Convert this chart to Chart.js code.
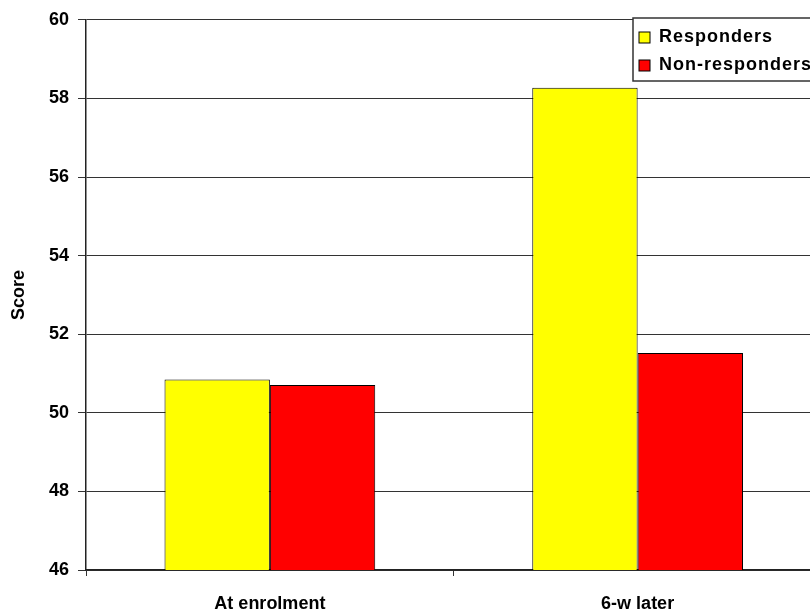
<!DOCTYPE html>
<html lang="en">
  <head>
    <meta charset="UTF-8" />
    <title>Score: responders vs non-responders</title>
    <script src="https://cdn.jsdelivr.net/npm/chart.js"></script>
    <style>
      html, body { margin: 0; padding: 0; background: #fff; overflow: hidden; }
      .chart-box { position: relative; width: 830px; height: 615px; }
    </style>
  </head>

  <body>
    <div class="chart-box">
      <canvas id="scoreChart"></canvas>
    </div>

    <script>
      // Data
      const categories = ["At enrolment", "6-w later"];
      const seriesNames = ["Responders", "Non-responders"];
      const responders = [50.85, 58.27];
      const nonResponders = [50.71, 51.52];
      const yMin = 46;
      const yMax = 60;
      const yStep = 2;

      const tickFont = { family: "Arial, 'Liberation Sans', sans-serif", size: 18, weight: "bold" };

      // legend drawn as a framed box inside the plot, like the original
      const boxLegend = {
        id: "boxLegend",
        afterDraw(chart) {
          const ctx = chart.ctx;
          const x = 633, y = 18, h = 63;
          ctx.save();
          ctx.fillStyle = "#fff";
          ctx.fillRect(x, y, chart.width - x + 5, h);
          ctx.strokeStyle = "#333";
          ctx.lineWidth = 1.5;
          ctx.strokeRect(x, y, chart.width - x + 5, h);
          ctx.font = "bold 18px Arial, 'Liberation Sans', sans-serif";
          ctx.letterSpacing = "1px";
          ctx.textBaseline = "middle";
          chart.data.datasets.forEach((ds, i) => {
            const cy = 37.5 + i * 28;
            ctx.fillStyle = ds.backgroundColor;
            ctx.fillRect(639, cy - 5.5, 11, 11);
            ctx.strokeStyle = "#000";
            ctx.lineWidth = 1;
            ctx.strokeRect(639, cy - 5.5, 11, 11);
            ctx.fillStyle = "#000";
            ctx.fillText(ds.label, 659, cy);
          });
          ctx.restore();
        },
      };

      new Chart(document.getElementById("scoreChart"), {
        type: "bar",
        data: {
          labels: categories,
          datasets: [
            {
              label: seriesNames[0],
              data: responders,
              backgroundColor: "#FFFF00",
              borderColor: "#000",
              borderWidth: 1,
              barPercentage: 1,
              categoryPercentage: 0.573,
            },
            {
              label: seriesNames[1],
              data: nonResponders,
              backgroundColor: "#FF0000",
              borderColor: "#000",
              borderWidth: 1,
              barPercentage: 1,
              categoryPercentage: 0.573,
            },
          ],
        },
        options: {
          responsive: true,
          maintainAspectRatio: false,
          animation: false,
          layout: { padding: { top: 18, right: 8.5, left: 0, bottom: 0 } },
          plugins: {
            legend: { display: false },
            tooltip: { enabled: false },
          },
          scales: {
            x: {
              grid: { display: true, drawOnChartArea: false, tickLength: 6, color: "#333" },
              border: { display: true, color: "#222", width: 1.5 },
              ticks: { color: "#000", font: tickFont, padding: 17, maxRotation: 0 },
              afterFit(scale) { scale.height = 45; },
            },
            y: {
              min: yMin,
              max: yMax,
              ticks: { stepSize: yStep, color: "#000", font: tickFont, padding: 9 },
              grid: { color: "#333", lineWidth: 1, tickLength: 8 },
              border: { display: true, color: "#222", width: 1.5 },
              title: {
                display: true,
                text: "Score",
                color: "#000",
                font: { family: "Arial, 'Liberation Sans', sans-serif", size: 18, weight: "bold" },
                padding: { top: 8, bottom: 0 },
              },
              afterFit(scale) { scale.width = 86; },
            },
          },
        },
        plugins: [boxLegend],
      });
    </script>
  </body>
</html>
